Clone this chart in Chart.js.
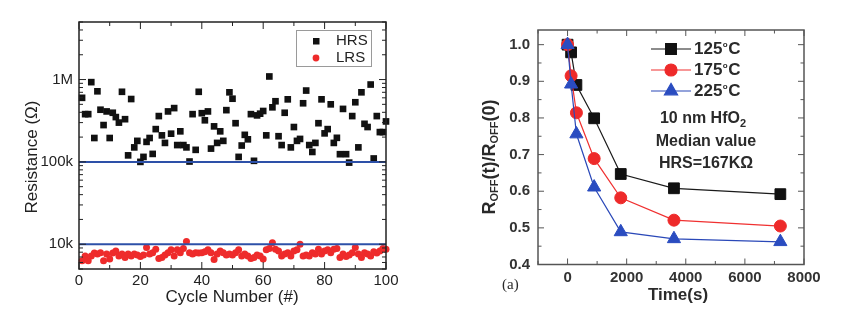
<!DOCTYPE html>
<html>
<head>
<meta charset="utf-8">
<script src="https://cdn.jsdelivr.net/npm/chart.js@4.4.0/dist/chart.umd.min.js"></script>
<style>
html, body { margin: 0; padding: 0; background: #fff; }
#wrap { position: relative; width: 857px; height: 324px; overflow: hidden; }
#wrap canvas { position: absolute; top: 0; }
#cycleChart { left: 0; }
#retentionChart { left: 430px; }
</style>
</head>
<body>
<div id="wrap">
    <canvas id="cycleChart" width="430" height="324"></canvas>
    <canvas id="retentionChart" width="427" height="324"></canvas>
</div>
<script>
const FONT = '"Liberation Sans", Arial, sans-serif';

// ---- endurance data (resistance per switching cycle) ----
const cycles = [
    1, 2, 3, 4, 5, 6, 7, 8, 9, 10, 11, 12, 13, 14, 15, 16, 17, 18, 19, 20,
    21, 22, 23, 24, 25, 26, 27, 28, 29, 30, 31, 32, 33, 34, 35, 36, 37, 38, 39, 40,
    41, 42, 43, 44, 45, 46, 47, 48, 49, 50, 51, 52, 53, 54, 55, 56, 57, 58, 59, 60,
    61, 62, 63, 64, 65, 66, 67, 68, 69, 70, 71, 72, 73, 74, 75, 76, 77, 78, 79, 80,
    81, 82, 83, 84, 85, 86, 87, 88, 89, 90, 91, 92, 93, 94, 95, 96, 97, 98, 99, 100
];
const hrsValues = [
    600e3, 380e3, 380e3, 930e3, 195e3, 720e3, 430e3, 280e3, 410e3, 195e3,
    395e3, 350e3, 300e3, 710e3, 330e3, 120e3, 580e3, 150e3, 180e3, 100e3,
    115e3, 175e3, 195e3, 125e3, 250e3, 360e3, 210e3, 170e3, 410e3, 220e3,
    450e3, 160e3, 235e3, 160e3, 150e3, 101e3, 380e3, 140e3, 710e3, 390e3,
    320e3, 410e3, 145e3, 270e3, 170e3, 235e3, 180e3, 425e3, 700e3, 585e3,
    295e3, 115e3, 158e3, 213e3, 188e3, 380e3, 103e3, 367e3, 385e3, 415e3,
    210e3, 1090e3, 460e3, 545e3, 205e3, 160e3, 395e3, 575e3, 150e3, 265e3,
    180e3, 190e3, 515e3, 735e3, 160e3, 132e3, 170e3, 295e3, 575e3, 222e3,
    250e3, 500e3, 170e3, 196e3, 124e3, 440e3, 124e3, 98e3, 360e3, 530e3,
    150e3, 700e3, 290e3, 265e3, 870e3, 110e3, 360e3, 230e3, 230e3, 310e3
];
const lrsValues = [
    6300, 7200, 6300, 7200, 7800, 7600, 7900, 6300, 7600, 6600,
    7800, 8300, 7200, 7600, 6900, 7600, 7200, 7600, 7400, 7100,
    7400, 9100, 7600, 7900, 8700, 6700, 6900, 7400, 7900, 8550,
    7200, 8550, 7900, 8900, 10800, 7900, 7600, 7900, 7800, 7900,
    8100, 8550, 7900, 6500, 7600, 8300, 7900, 7400, 7600, 7400,
    7900, 8550, 7200, 7600, 7200, 6700, 6900, 7400, 7200, 6600,
    8550, 8900, 10400, 8700, 8300, 7200, 7600, 7900, 7200, 8300,
    8550, 10000, 7200, 7400, 7200, 7900, 7600, 8700, 7600, 8300,
    8550, 7900, 8700, 8900, 6900, 7600, 7100, 7400, 7900, 9100,
    7600, 6900, 7900, 7600, 7200, 8100, 7800, 8300, 8900, 8700
];
const limitLevels = [1e5, 1e4];
const resistanceTicks = [1e4, 1e5, 1e6];
const resistanceTickText = ['10k', '100k', '1M'];
const cycleMajor = [0, 20, 40, 60, 80, 100];
const cycleMinor = [10, 30, 50, 70, 90];

// ---- retention data (normalised HRS vs bake time) ----
const bakeTimes = [0, 120, 300, 900, 1800, 3600, 7200];
const ratio125 = [1.0, 0.979, 0.89, 0.799, 0.647, 0.608, 0.592];
const ratio175 = [1.0, 0.915, 0.814, 0.689, 0.582, 0.521, 0.505];
const ratio225 = [1.0, 0.892, 0.756, 0.611, 0.489, 0.47, 0.462];
const tempLabels = ['125', '175', '225'];
const timeMajor = [0, 2000, 4000, 6000, 8000];
const timeMinor = [-1000, 1000, 3000, 5000, 7000];
const ratioMajor = [0.4, 0.5, 0.6, 0.7, 0.8, 0.9, 1.0];
const ratioMinor = [0.45, 0.55, 0.65, 0.75, 0.85, 0.95];

function toPoints(xs, ys) {
    return xs.map((x, i) => ({ x, y: ys[i] }));
}

function logMinors(min, max) {
    const out = [];
    for (let d = Math.pow(10, Math.floor(Math.log10(min))); d < max; d *= 10) {
        for (let k = 2; k <= 9; k++) {
            const v = k * d;
            if (v >= min && v <= max) out.push(v);
        }
    }
    return out;
}

function line(ctx, x1, y1, x2, y2) {
    ctx.beginPath();
    ctx.moveTo(x1, y1);
    ctx.lineTo(x2, y2);
    ctx.stroke();
}

// box plus inward ticks on all four sides
function drawFrame(chart, cfg) {
    const { ctx, chartArea: a } = chart;
    const xs = chart.scales.x, ys = chart.scales.y;
    ctx.save();
    ctx.strokeStyle = cfg.color;
    ctx.lineWidth = cfg.width;
    ctx.strokeRect(a.left, a.top, a.right - a.left, a.bottom - a.top);
    ctx.lineWidth = 1;
    const xt = (vals, len) => vals.forEach(v => {
        const p = xs.getPixelForValue(v);
        line(ctx, p, a.bottom, p, a.bottom - len);
        line(ctx, p, a.top, p, a.top + len);
    });
    const yt = (vals, len) => vals.forEach(v => {
        const p = ys.getPixelForValue(v);
        line(ctx, a.left, p, a.left + len, p);
        line(ctx, a.right, p, a.right - len, p);
    });
    xt(cfg.xMajor, cfg.major);
    xt(cfg.xMinor, cfg.minor);
    yt(cfg.yMajor, cfg.major);
    yt(cfg.yMinor, cfg.minor);
    ctx.restore();
}

// draws a run of [text, size, dy] pieces, centred on x
function drawRuns(ctx, runs, cx, cy, weight) {
    let total = 0;
    runs.forEach(r => {
        ctx.font = weight + ' ' + r[1] + 'px ' + FONT;
        total += ctx.measureText(r[0]).width;
    });
    let x = cx - total / 2;
    runs.forEach(r => {
        ctx.font = weight + ' ' + r[1] + 'px ' + FONT;
        ctx.fillText(r[0], x, cy + (r[2] || 0));
        x += ctx.measureText(r[0]).width;
    });
}

const cyclePlugin = {
    id: 'cycleDecor',
    afterDatasetsDraw(chart) {
        const ys = chart.scales.y;
        drawFrame(chart, {
            color: '#222', width: 1.5, major: 7, minor: 4,
            xMajor: cycleMajor, xMinor: cycleMinor,
            yMajor: resistanceTicks, yMinor: logMinors(ys.min, ys.max)
        });
        const ctx = chart.ctx;
        ctx.save();
        // legend
        ctx.fillStyle = '#fff';
        ctx.strokeStyle = '#9a9a9a';
        ctx.lineWidth = 1;
        ctx.fillRect(296.5, 30.5, 75, 36);
        ctx.strokeRect(296.5, 30.5, 75, 36);
        ctx.fillStyle = '#111';
        ctx.fillRect(313, 38, 6.5, 6.5);
        ctx.fillStyle = '#ee2b2b';
        ctx.beginPath();
        ctx.arc(316, 58, 3.4, 0, Math.PI * 2);
        ctx.fill();
        ctx.fillStyle = '#222';
        ctx.font = '15px ' + FONT;
        ctx.textBaseline = 'middle';
        ctx.fillText('HRS', 336, 41);
        ctx.fillText('LRS', 336, 58);
        // axis titles
        ctx.font = '17px ' + FONT;
        ctx.textAlign = 'center';
        ctx.fillText('Cycle Number (#)', 232, 297);
        ctx.translate(32, 157);
        ctx.rotate(-Math.PI / 2);
        ctx.fillText('Resistance (\u03A9)', 0, 0);
        ctx.restore();
    }
};

const retentionPlugin = {
    id: 'retentionDecor',
    afterDatasetsDraw(chart) {
        drawFrame(chart, {
            color: '#555', width: 1.5, major: 6, minor: 3.5,
            xMajor: timeMajor, xMinor: timeMinor,
            yMajor: ratioMajor, yMinor: ratioMinor
        });
        const ctx = chart.ctx;
        const ox = -430;
        ctx.save();
        ctx.textBaseline = 'middle';
        // legend: line + marker + temperature
        const styles = chart.data.datasets;
        [49, 70, 91].forEach((y, i) => {
            const ds = styles[i];
            ctx.strokeStyle = ds.borderColor;
            ctx.lineWidth = 1.2;
            line(ctx, 651 + ox, y, 691 + ox, y);
            ctx.fillStyle = ds.pointBackgroundColor;
            ctx.strokeStyle = ds.pointBorderColor;
            Chart.helpers.drawPoint(ctx, {
                pointStyle: ds.pointStyle, radius: ds.pointRadius, rotation: 0, borderWidth: 1
            }, 671 + ox, y);
            ctx.fillStyle = '#2a2a2a';
            ctx.textAlign = 'left';
            let x = 694 + ox;
            ctx.font = 'bold 17px ' + FONT;
            ctx.fillText(tempLabels[i], x, y);
            x += ctx.measureText(tempLabels[i]).width + 0.5;
            ctx.font = 'bold 8px ' + FONT;
            ctx.fillText('o', x, y - 4);
            x += ctx.measureText('o').width + 0.5;
            ctx.font = 'bold 17px ' + FONT;
            ctx.fillText('C', x, y);
        });
        // sample note
        ctx.fillStyle = '#2a2a2a';
        drawRuns(ctx, [['10 nm HfO', 16], ['2', 11, 5]], 703 + ox, 119, 'bold');
        drawRuns(ctx, [['Median value', 16]], 706 + ox, 142, 'bold');
        drawRuns(ctx, [['HRS=167K\u03A9', 16]], 706 + ox, 164, 'bold');
        // axis titles
        ctx.textAlign = 'left';
        drawRuns(ctx, [['Time(s)', 17]], 678 + ox, 295, 'bold');
        ctx.font = '15px "Liberation Serif", "DejaVu Serif", serif';
        ctx.fillText('(a)', 502 + ox, 285);
        ctx.translate(490 + ox, 157);
        ctx.rotate(-Math.PI / 2);
        drawRuns(ctx, [
            ['R', 18], ['OFF', 11, 5], ['(t)/R', 18], ['OFF', 11, 5], ['(0)', 18]
        ], 0, 0, 'bold');
        ctx.restore();
    }
};

const cycleChart = new Chart(document.getElementById('cycleChart').getContext('2d'), {
    type: 'scatter',
    data: {
        datasets: [
            ...limitLevels.map(level => ({
                type: 'line',
                data: [{ x: cycleMajor[0], y: level }, { x: cycleMajor[cycleMajor.length - 1], y: level }],
                borderColor: '#2d50a8',
                borderWidth: 2,
                pointRadius: 0
            })),
            {
                label: 'HRS',
                data: toPoints(cycles, hrsValues),
                pointStyle: 'rect',
                pointRadius: 4.7,
                backgroundColor: '#111',
                borderColor: '#111',
                borderWidth: 0,
                clip: false
            },
            {
                label: 'LRS',
                data: toPoints(cycles, lrsValues),
                pointStyle: 'circle',
                pointRadius: 3.5,
                backgroundColor: '#ee2b2b',
                borderColor: '#ee2b2b',
                borderWidth: 0,
                clip: false
            }
        ]
    },
    options: {
        responsive: false,
        animation: false,
        layout: { padding: { top: 22, right: 44, left: 0, bottom: 0 } },
        plugins: { legend: { display: false }, tooltip: { enabled: false } },
        scales: {
            x: {
                type: 'linear', min: 0, max: 100,
                grid: { display: false, drawTicks: false },
                border: { display: false },
                ticks: { stepSize: 20, padding: 3, maxRotation: 0, autoSkip: false, color: '#222', font: { family: FONT, size: 15 } },
                afterFit: s => { s.height = 55; }
            },
            y: {
                type: 'logarithmic', min: 5000, max: 5e6,
                grid: { display: false, drawTicks: false },
                border: { display: false },
                ticks: {
                    padding: 6, autoSkip: false, color: '#222', font: { family: FONT, size: 15 },
                    callback: v => {
                        const i = resistanceTicks.findIndex(t => Math.abs(t - v) / t < 1e-6);
                        return i >= 0 ? resistanceTickText[i] : null;
                    }
                },
                afterFit: s => { s.width = 79; }
            }
        }
    },
    plugins: [cyclePlugin]
});

const retentionChart = new Chart(document.getElementById('retentionChart').getContext('2d'), {
    type: 'line',
    data: {
        datasets: [
            { data: toPoints(bakeTimes, ratio125), borderColor: '#1a1a1a', pointBackgroundColor: '#111', pointBorderColor: '#111', pointStyle: 'rect', pointRadius: 7.6, order: 3 },
            { data: toPoints(bakeTimes, ratio175), borderColor: '#f03030', pointBackgroundColor: '#ee2a2a', pointBorderColor: '#ee2a2a', pointStyle: 'circle', pointRadius: 6, order: 2 },
            { data: toPoints(bakeTimes, ratio225), borderColor: '#2a48b8', pointBackgroundColor: '#2a4cc0', pointBorderColor: '#2a4cc0', pointStyle: 'triangle', pointRadius: 7.6, order: 1 }
        ].map(d => Object.assign(d, { borderWidth: 1.2, pointBorderWidth: 1, clip: false, tension: 0 }))
    },
    options: {
        responsive: false,
        animation: false,
        layout: { padding: { top: 30, right: 53, left: 0, bottom: 0 } },
        plugins: { legend: { display: false }, tooltip: { enabled: false } },
        scales: {
            x: {
                type: 'linear', min: -1000, max: 8000,
                grid: { display: false, drawTicks: false },
                border: { display: false },
                ticks: {
                    stepSize: 1000, padding: 4, maxRotation: 0, autoSkip: false, color: '#333',
                    font: { family: FONT, size: 15, weight: 'bold' },
                    callback: v => (v >= 0 && v % 2000 === 0 ? String(v) : null)
                },
                afterFit: s => { s.height = 59.5; }
            },
            y: {
                type: 'linear', min: 0.4, max: 1.04,
                grid: { display: false, drawTicks: false },
                border: { display: false },
                ticks: {
                    stepSize: 0.1, padding: 8, autoSkip: false, includeBounds: false, color: '#333',
                    font: { family: FONT, size: 15, weight: 'bold' },
                    callback: v => (v <= 1.0001 ? v.toFixed(1) : null)
                },
                afterFit: s => { s.width = 108; }
            }
        }
    },
    plugins: [retentionPlugin]
});
</script>
</body>
</html>
